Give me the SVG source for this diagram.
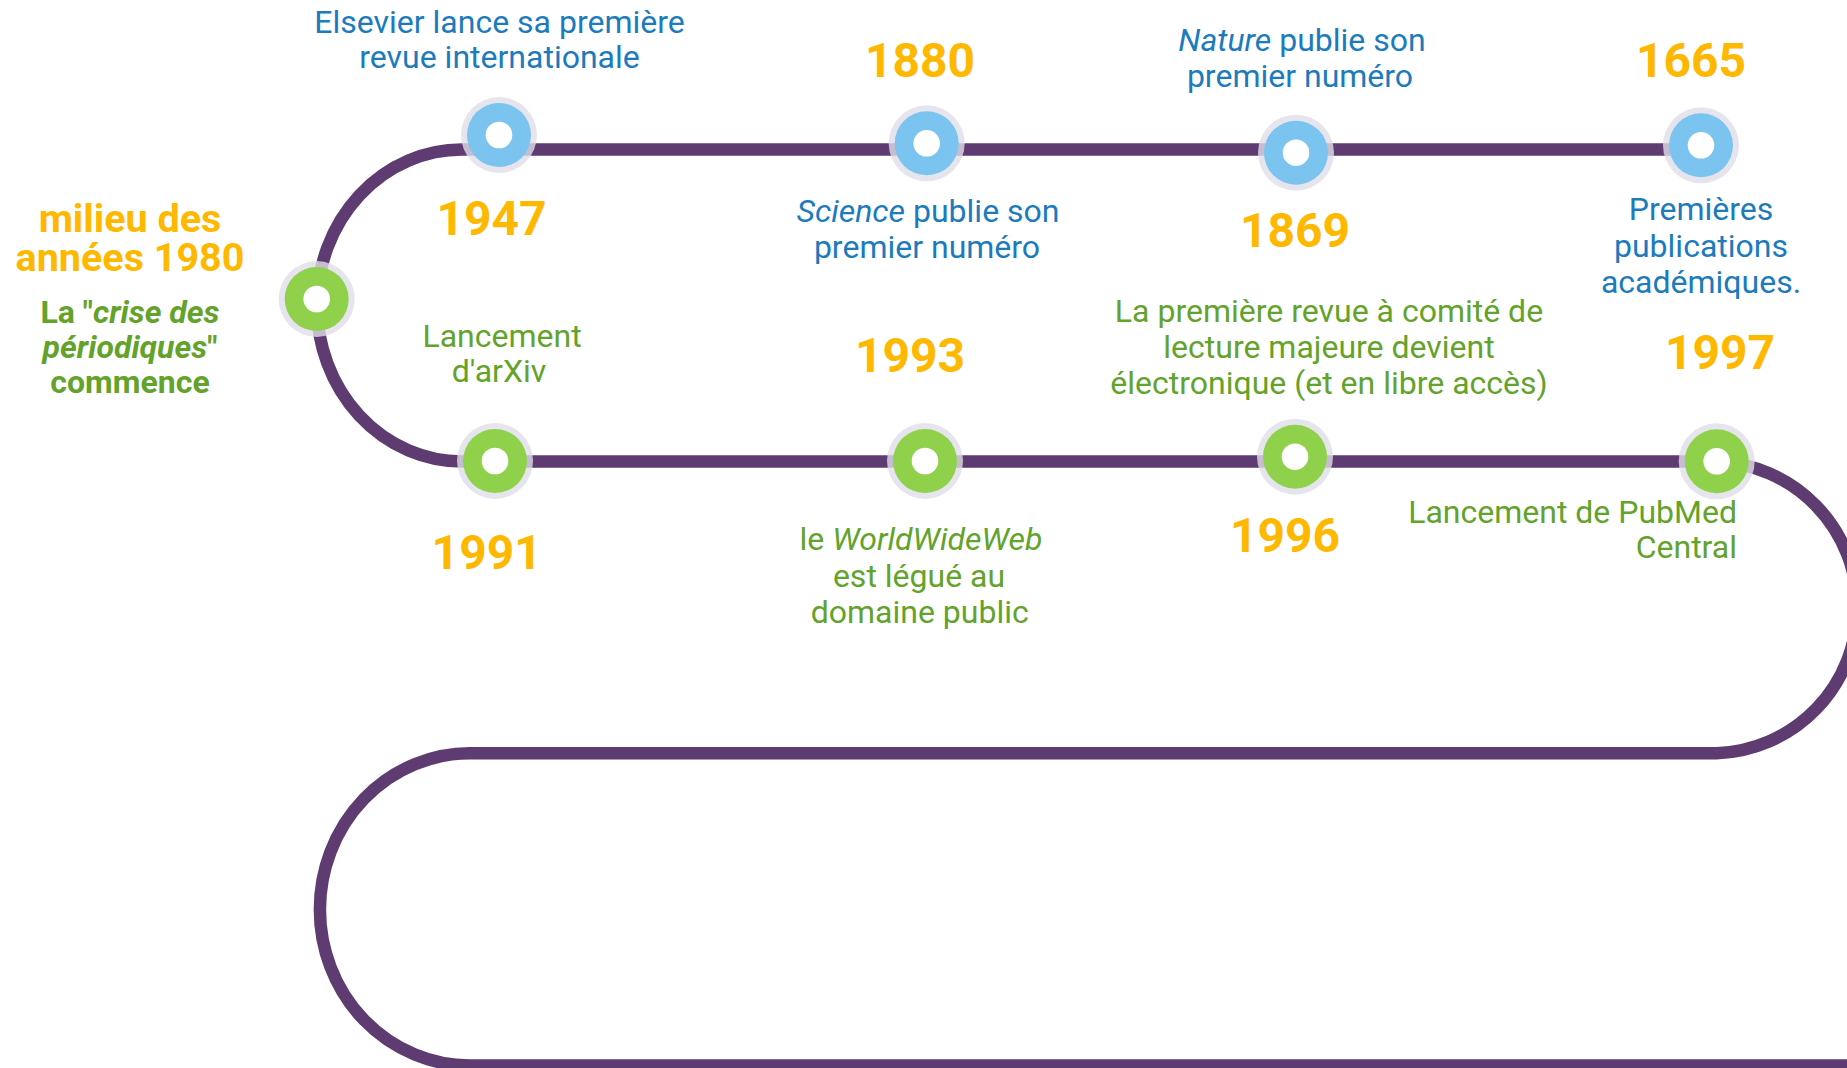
<svg xmlns="http://www.w3.org/2000/svg" width="1847" height="1068" viewBox="0 0 1847 1068">
<defs>
<style>
.track{fill:none;stroke:#5E3B70;stroke-width:12.5}
.halo{fill:#E0DEEA;fill-opacity:0.8}
.blue{fill:#7BC4F0}
.green{fill:#8FD14A}
.hole{fill:#FFFFFF}
text{font-family:Roboto,"Liberation Sans",sans-serif;text-anchor:middle}
.year{font-weight:700;font-size:48px;fill:#FFB800}
.dblue{font-size:32px;fill:#1B7BBD}
.dgreen{font-size:32px;fill:#63A32B}
.it{font-style:italic}
.lefty{font-weight:700;font-size:39.5px;fill:#FFB800}
.leftg{font-weight:700;font-size:32px;fill:#63A32B}
</style>
</defs>
<rect width="1847" height="1068" fill="#FFFFFF"/>
<g id="connectors">
<path class="track" d="M 1701 149.5 L 462 149.5 A 145 156 0 0 0 462 461.5 L 1716.7 461.5 A 146 146 0 0 1 1716.7 753.3 L 470 753.3 A 150 156 0 0 0 470 1065.5 L 1860 1065.5"/>
</g>
<g id="node-1947">
<circle class="halo" cx="499" cy="135" r="38"/><circle class="blue" cx="499" cy="135" r="32"/><circle class="hole" cx="499" cy="135" r="13.3"/>
<text class="dblue" x="499.5" y="33">Elsevier lance sa première</text>
<text class="dblue" x="499.5" y="68">revue internationale</text>
<text class="year" x="491.5" y="235">1947</text>
</g>
<g id="node-1880">
<circle class="halo" cx="926.7" cy="143.3" r="38"/><circle class="blue" cx="926.7" cy="143.3" r="32"/><circle class="hole" cx="926.7" cy="143.3" r="13.3"/>
<text class="year" x="920" y="77.3">1880</text>
<text class="dblue" x="928" y="221.7"><tspan class="it">Science</tspan> publie son</text>
<text class="dblue" x="927" y="258">premier numéro</text>
</g>
<g id="node-1869">
<circle class="halo" cx="1296" cy="152.7" r="38"/><circle class="blue" cx="1296" cy="152.7" r="32"/><circle class="hole" cx="1296" cy="152.7" r="13.3"/>
<text class="dblue" x="1302" y="50.7"><tspan class="it">Nature</tspan> publie son</text>
<text class="dblue" x="1300" y="86.7">premier numéro</text>
<text class="year" x="1295" y="246.5">1869</text>
</g>
<g id="node-1665">
<circle class="halo" cx="1701" cy="145.3" r="38"/><circle class="blue" cx="1701" cy="145.3" r="32"/><circle class="hole" cx="1701" cy="145.3" r="13.3"/>
<text class="year" x="1691" y="77.3">1665</text>
<text class="dblue" x="1701" y="220">Premières</text>
<text class="dblue" x="1701" y="256.5">publications</text>
<text class="dblue" x="1701" y="292.7">académiques.</text>
</g>
<g id="node-1980s">
<circle class="halo" cx="316.7" cy="299" r="38"/><circle class="green" cx="316.7" cy="299" r="32"/><circle class="hole" cx="316.7" cy="299" r="13.3"/>
<text class="lefty" x="130" y="231.7">milieu des</text>
<text class="lefty" x="130" y="270.7">années 1980</text>
<text class="leftg" x="130" y="322.7">La "<tspan class="it">crise des</tspan></text>
<text class="leftg" x="130" y="358.3"><tspan class="it">périodiques</tspan>"</text>
<text class="leftg" x="130" y="393.3">commence</text>
</g>
<g id="node-1991">
<circle class="halo" cx="495" cy="461" r="38"/><circle class="green" cx="495" cy="461" r="32"/><circle class="hole" cx="495" cy="461" r="13.3"/>
<text class="dgreen" x="502" y="346.7">Lancement</text>
<text class="dgreen" x="499" y="381.7">d'arXiv</text>
<text class="year" x="486.7" y="569">1991</text>
</g>
<g id="node-1993">
<circle class="halo" cx="925" cy="461" r="38"/><circle class="green" cx="925" cy="461" r="32"/><circle class="hole" cx="925" cy="461" r="13.3"/>
<text class="year" x="910" y="371.7">1993</text>
<text class="dgreen" x="921" y="550">le <tspan class="it">WorldWideWeb</tspan></text>
<text class="dgreen" x="919" y="586.7">est légué au</text>
<text class="dgreen" x="919.7" y="623.3">domaine public</text>
</g>
<g id="node-1996">
<circle class="halo" cx="1295" cy="456.7" r="38"/><circle class="green" cx="1295" cy="456.7" r="32"/><circle class="hole" cx="1295" cy="456.7" r="13.3"/>
<text class="dgreen" x="1329" y="322.3">La première revue à comité de</text>
<text class="dgreen" x="1329" y="358.3">lecture majeure devient</text>
<text class="dgreen" x="1329" y="394">électronique (et en libre accès)</text>
<text class="year" x="1285" y="551.7">1996</text>
</g>
<g id="node-1997">
<circle class="halo" cx="1716.7" cy="461.3" r="38"/><circle class="green" cx="1716.7" cy="461.3" r="32"/><circle class="hole" cx="1716.7" cy="461.3" r="13.3"/>
<text class="year" x="1720" y="369.3">1997</text>
<text class="dgreen" x="1737" y="522.5" style="text-anchor:end">Lancement de PubMed</text>
<text class="dgreen" x="1737" y="558.3" style="text-anchor:end">Central</text>
</g>
</svg>
